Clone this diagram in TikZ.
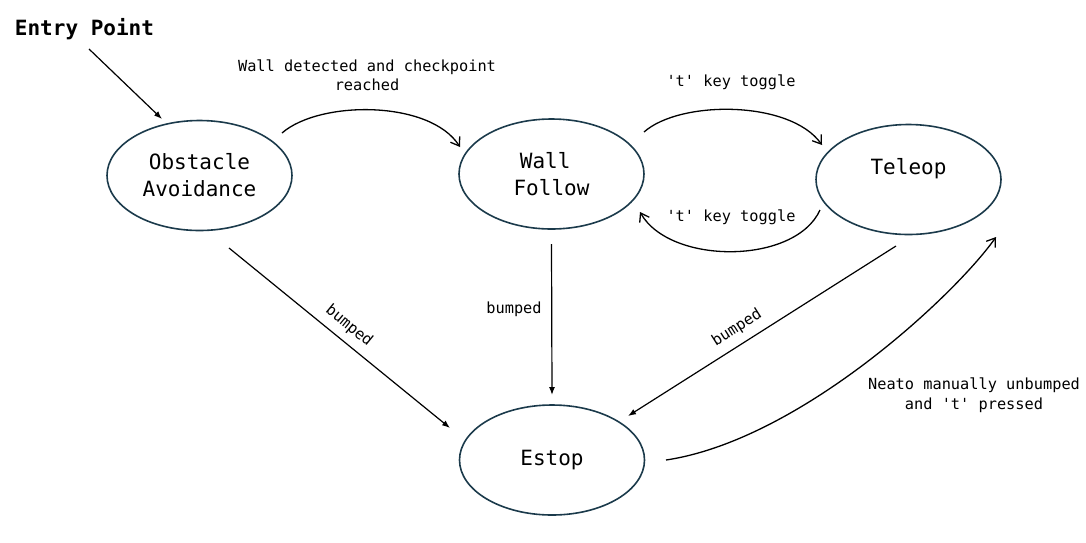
\documentclass[tikz,border=0pt]{standalone}
\usepackage{fontspec}
\setmonofont{DejaVu Sans Mono}
\usetikzlibrary{arrows.meta,shapes.geometric}
\definecolor{nodeline}{HTML}{1B3A4B}
\begin{document}
\begin{tikzpicture}[x=1pt,y=-1pt,
  state/.style={ellipse, draw=nodeline, line width=1.6pt, minimum width=185pt, minimum height=110pt, inner sep=0pt, align=center, font=\ttfamily\fontsize{21}{27}\selectfont},
  lbl/.style={font=\ttfamily\fontsize{15.3}{19.5}\selectfont, align=center, inner sep=0pt},
  curved/.style={line width=1.3pt, -{Straight Barb[length=8pt,width=11pt]}},
  straight/.style={line width=1.2pt, -{Latex[length=8pt,width=6pt]}},
]
\useasboundingbox (0,0) rectangle (1086,542);

\node[state] (obs) at (199.5,175.5) {Obstacle\\Avoidance};
\node[state] (wall) at (551.5,174) {Wall\phantom{x}\\Follow};
\node[state] (tele) at (908.5,179.5) {Teleop\\\mbox{}};
\node[state] (estop) at (552,460) {Estop};
\node[font=\ttfamily\bfseries\fontsize{21}{25}\selectfont, inner sep=0pt] (entry) at (84.5,29) {Entry Point};

\draw[straight] ([shift={(4.5,20)}]entry.center) -- ([shift={(-37.5,-56.5)}]obs.center);

\draw[curved] ([shift={(82.5,-42.5)}]obs.center) .. controls +(38,-33) and +(-30,-47) .. ([shift={(-91.5,-27)}]wall.center)
  node[lbl] at (367,75) {Wall detected and checkpoint\\reached};

\draw[curved] ([shift={(92.5,-42)}]wall.center) .. controls +(36,-32) and +(-32,-45) .. ([shift={(-86.5,-34.5)}]tele.center)
  node[lbl] at (731,82) {'t' key toggle};

\draw[curved] ([shift={(-88.5,30.5)}]tele.center) .. controls +(-25,55) and +(30,53) .. ([shift={(88.5,38)}]wall.center)
  node[lbl] at (731,217) {'t' key toggle};

\draw[straight] ([shift={(29.5,72.5)}]obs.center) -- ([shift={(-102,-32)}]estop.center)
  node[lbl, rotate=-39.2] at (349,326) {bumped};

\draw[straight] ([shift={(0,70)}]wall.center) -- ([shift={(0,-65)}]estop.center)
  node[lbl] at (514,309) {bumped};

\draw[straight] ([shift={(-12.5,66.5)}]tele.center) -- ([shift={(76,-44)}]estop.center)
  node[lbl, rotate=32.4] at (737,328) {bumped};

\draw[curved] ([shift={(114,0)}]estop.center) .. controls +(134,-20) and +(-41,58) .. ([shift={(87.5,57.5)}]tele.center)
  node[lbl] at (974,395) {Neato manually unbumped\\and 't' pressed};
\end{tikzpicture}
\end{document}
